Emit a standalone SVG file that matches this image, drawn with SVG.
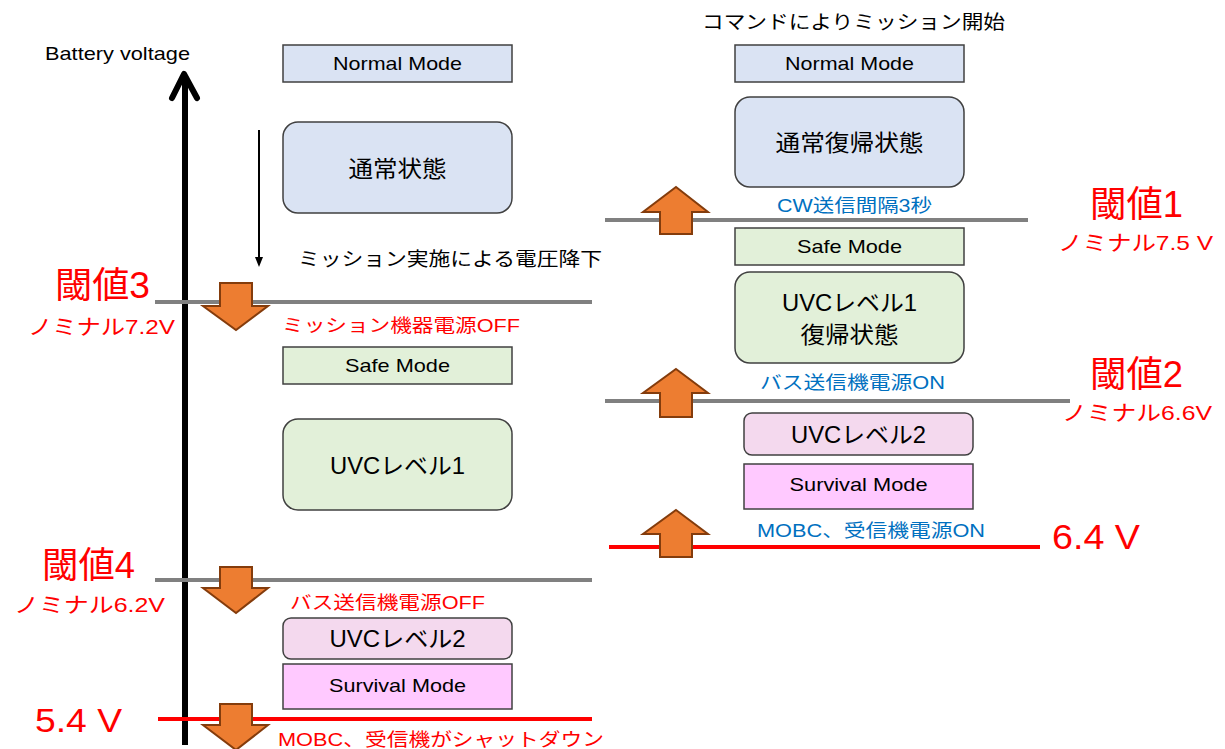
<svg xmlns="http://www.w3.org/2000/svg" width="1225" height="749" viewBox="0 0 1225 749">
<defs>
<style>
text{font-family:"Liberation Sans","Noto Sans CJK JP",sans-serif;}
.box{stroke:#404040;stroke-width:1.5;}
.blue{fill:#dae3f3;}
.green{fill:#e2f0d9;}
.pink{fill:#f4d9ee;}
.mag{fill:#ffc9ff;}
.t{fill:#000;text-anchor:middle;}
.red{fill:#ff0000;}
.cb{fill:#0070c0;}
.gl{stroke:#808080;stroke-width:4;}
.rl{stroke:#ff0000;stroke-width:4;}
.oa{fill:#ed7d31;stroke:#843c0c;stroke-width:2;stroke-linejoin:miter;}
</style>
<marker id="ah" markerWidth="10" markerHeight="10" refX="5" refY="5" orient="auto" markerUnits="userSpaceOnUse">
<path d="M0,1 L10,5 L0,9 Z" fill="#000"/>
</marker>
</defs>

<g id="axis">
<text x="45" y="60" font-size="18.5" fill="#000" textLength="145" lengthAdjust="spacingAndGlyphs">Battery voltage</text>
<line x1="185" y1="745" x2="185" y2="75" stroke="#000" stroke-width="6"/>
<polyline points="172,98 184,74 197,98" fill="none" stroke="#000" stroke-width="6" stroke-linecap="round" stroke-linejoin="round"/>
</g>

<g id="connectors">
<line x1="259" y1="130" x2="259" y2="262" stroke="#000" stroke-width="2" marker-end="url(#ah)"/>
<line class="gl" x1="155" y1="302" x2="592" y2="302"/>
<line class="gl" x1="155" y1="580" x2="592" y2="580"/>
<line class="rl" x1="158" y1="719" x2="592" y2="719"/>
<line class="gl" x1="605" y1="220" x2="1028" y2="220"/>
<line class="gl" x1="605" y1="401" x2="1070" y2="401"/>
<line class="rl" x1="609" y1="547" x2="1040" y2="547"/>
<polygon class="oa" points="220,283 252,283 252,306 268,306 236,330 203,306 220,306"/>
<polygon class="oa" points="220,567 252,567 252,588 268,588 236,613 203,588 220,588"/>
<polygon class="oa" points="220,704 252,704 252,725 268,725 236,750 203,725 220,725"/>
<polygon class="oa" points="676,187 708,212 692,212 692,234 660,234 660,212 643,212"/>
<polygon class="oa" points="676,369 708,393 692,393 692,417 660,417 660,393 643,393"/>
<polygon class="oa" points="676,510 708,534 692,534 692,557 660,557 660,534 643,534"/>
</g>

<g id="labels">
<text x="298" y="266" font-size="19" fill="#000" textLength="304" lengthAdjust="spacingAndGlyphs">ミッション実施による電圧降下</text>
<text x="55" y="298" font-size="36" class="red" textLength="95" lengthAdjust="spacingAndGlyphs">閾値3</text>
<text x="28" y="334" font-size="21" class="red" textLength="147" lengthAdjust="spacingAndGlyphs">ノミナル7.2V</text>
<text x="282" y="332" font-size="18" class="red" textLength="238" lengthAdjust="spacingAndGlyphs">ミッション機器電源OFF</text>
<text x="42" y="578" font-size="36" class="red" textLength="93" lengthAdjust="spacingAndGlyphs">閾値4</text>
<text x="14" y="612" font-size="21" class="red" textLength="151" lengthAdjust="spacingAndGlyphs">ノミナル6.2V</text>
<text x="290" y="609" font-size="18" class="red" textLength="195" lengthAdjust="spacingAndGlyphs">バス送信機電源OFF</text>
<text x="35" y="732" font-size="34" class="red" textLength="87" lengthAdjust="spacingAndGlyphs">5.4 V</text>
<text x="278" y="746" font-size="18.5" class="red" textLength="326" lengthAdjust="spacingAndGlyphs">MOBC、受信機がシャットダウン</text>
<text x="702" y="29" font-size="19" fill="#000" textLength="303" lengthAdjust="spacingAndGlyphs">コマンドによりミッション開始</text>
<text x="777" y="212" font-size="18" class="cb" textLength="155" lengthAdjust="spacingAndGlyphs">CW送信間隔3秒</text>
<text x="1090" y="217" font-size="36" class="red" textLength="93" lengthAdjust="spacingAndGlyphs">閾値1</text>
<text x="1058" y="250" font-size="21" class="red" textLength="155" lengthAdjust="spacingAndGlyphs">ノミナル7.5 V</text>
<text x="760" y="389" font-size="18" class="cb" textLength="185" lengthAdjust="spacingAndGlyphs">バス送信機電源ON</text>
<text x="1090" y="387" font-size="36" class="red" textLength="93" lengthAdjust="spacingAndGlyphs">閾値2</text>
<text x="1062" y="420" font-size="21" class="red" textLength="150" lengthAdjust="spacingAndGlyphs">ノミナル6.6V</text>
<text x="757" y="537" font-size="18" class="cb" textLength="228" lengthAdjust="spacingAndGlyphs">MOBC、受信機電源ON</text>
<text x="1052" y="549" font-size="35" class="red" textLength="88" lengthAdjust="spacingAndGlyphs">6.4 V</text>
</g>

<g id="normal-left">
<rect class="box blue" x="283" y="45" width="229" height="37"/>
<text class="t" x="397.5" y="70" font-size="19" textLength="129" lengthAdjust="spacingAndGlyphs">Normal Mode</text>
</g>
<g id="tsujo-left">
<rect class="box blue" x="283" y="122" width="229" height="91" rx="15"/>
<text class="t" x="397.5" y="177" font-size="23" textLength="98" lengthAdjust="spacingAndGlyphs">通常状態</text>
</g>
<g id="safe-left">
<rect class="box green" x="283" y="347" width="229" height="37"/>
<text class="t" x="397.5" y="372" font-size="18.5" textLength="105" lengthAdjust="spacingAndGlyphs">Safe Mode</text>
</g>
<g id="uvc1-left">
<rect class="box green" x="283" y="419" width="229" height="91" rx="15"/>
<text class="t" x="397.5" y="474" font-size="23" textLength="135" lengthAdjust="spacingAndGlyphs">UVCレベル1</text>
</g>
<g id="uvc2-left">
<rect class="box pink" x="283" y="618" width="229" height="41" rx="8"/>
<text class="t" x="397.5" y="647" font-size="23" textLength="136" lengthAdjust="spacingAndGlyphs">UVCレベル2</text>
</g>
<g id="survival-left">
<rect class="box mag" x="283" y="664" width="229" height="45"/>
<text class="t" x="397.5" y="692" font-size="18.5" textLength="137" lengthAdjust="spacingAndGlyphs">Survival Mode</text>
</g>

<g id="normal-right">
<rect class="box blue" x="735" y="45" width="229" height="37"/>
<text class="t" x="849.5" y="70" font-size="19" textLength="129" lengthAdjust="spacingAndGlyphs">Normal Mode</text>
</g>
<g id="tsujo-fukki">
<rect class="box blue" x="735" y="97" width="229" height="90" rx="15"/>
<text class="t" x="849.5" y="151" font-size="23" textLength="148" lengthAdjust="spacingAndGlyphs">通常復帰状態</text>
</g>
<g id="safe-right">
<rect class="box green" x="735" y="228" width="229" height="37"/>
<text class="t" x="849.5" y="253" font-size="18.5" textLength="105" lengthAdjust="spacingAndGlyphs">Safe Mode</text>
</g>
<g id="uvc1-fukki">
<rect class="box green" x="735" y="272" width="229" height="91" rx="15"/>
<text class="t" x="849.5" y="311" font-size="23" textLength="135" lengthAdjust="spacingAndGlyphs">UVCレベル1</text>
<text class="t" x="849.5" y="343" font-size="23" textLength="98" lengthAdjust="spacingAndGlyphs">復帰状態</text>
</g>
<g id="uvc2-right">
<rect class="box pink" x="744" y="413" width="229" height="42" rx="8"/>
<text class="t" x="858.5" y="443" font-size="23" textLength="135" lengthAdjust="spacingAndGlyphs">UVCレベル2</text>
</g>
<g id="survival-right">
<rect class="box mag" x="744" y="464" width="229" height="45"/>
<text class="t" x="858.5" y="491" font-size="18.5" textLength="138" lengthAdjust="spacingAndGlyphs">Survival Mode</text>
</g>
</svg>
